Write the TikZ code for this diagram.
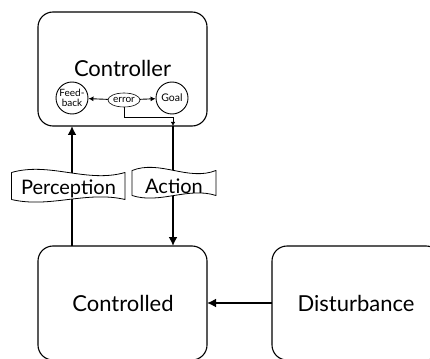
\documentclass[tikz,border=0pt]{standalone}
\usepackage{fontspec}
\setmainfont{Lato}
\usetikzlibrary{shapes.geometric,arrows.meta}
\begin{document}
\begin{tikzpicture}[x=1pt,y=-1pt,
  box/.style={draw,line width=1.1pt,rounded corners=15pt,inner sep=0pt,outer sep=0pt,minimum width=169pt},
  big/.style={font=\fontsize{22}{24}\selectfont,anchor=base},
  circ/.style={draw,circle,line width=0.9pt,minimum size=32pt,inner sep=0pt,align=center},
  thinarrow/.style={line width=0.9pt,-{Latex[length=5pt,width=5pt]}},
  thickarrow/.style={line width=2pt,-{Latex[length=9pt,width=9pt]}},
  bannerarea/.style={inner sep=0pt,outer sep=0pt},
  bannerline/.style={draw,fill=white,line width=0.8pt,line join=round},
  bannertext/.style={font=\fontsize{20}{22}\selectfont,anchor=base}
]
\useasboundingbox (0,0) rectangle (430,358);
% boxes
\node[box,minimum height=114pt] (ctrl) at (122.5,69) {};
\node[big] (ctrltext) at (122.5,77) {Controller};
\node[box,minimum height=114pt] (cd) at (122.5,303) {};
\node[big] (cdtext) at (123,311.5) {Controlled};
\node[box,minimum height=114pt] (dist) at (356.5,303) {};
\node[big] (disttext) at (356,311.5) {Disturbance};
% inner nodes
\node[circ,font=\fontsize{10}{10}\selectfont] (fb) at (72,98) {Feed-\\back};
\node[circ,font=\fontsize{10.5}{10.5}\selectfont] (goal) at (172,98) {Goal};
\node[draw,ellipse,line width=0.6pt,minimum width=32pt,minimum height=14pt,inner sep=-1.5pt,font=\fontsize{10}{10}\selectfont] (err) at (124,100) {error};
\draw[thinarrow] (err) -- (fb);
\draw[thinarrow] (err) -- (goal);
\coordinate (a1) at (173,117);
\draw[line width=0.9pt,-{Latex[length=4pt,width=4.5pt]}] (err.south) |- (a1) -- (a1 |- ctrl.south);
% main connectors
\draw[thickarrow] (a1 |- ctrl.south) -- (a1 |- cd.north);
\draw[thickarrow] (fb |- cd.north) -- (fb |- ctrl.south);
\draw[thickarrow] (dist.west) -- (cd.east);
% banners
\node[bannerarea,minimum width=113.5pt,minimum height=27pt] (perc) at (68.25,186) {};
\path[bannerline] (perc.north west) .. controls +(38,-11) and +(-38,11) .. (perc.north east)
  -- (perc.south east) .. controls +(-38,-9) and +(38,9) .. (perc.south west) -- cycle;
\node[bannertext] (perctext) at (68.5,194.3) {Perception};
\node[bannerarea,minimum width=84pt,minimum height=25pt] (act) at (174,183) {};
\path[bannerline] (act.north west) .. controls +(28,-11) and +(-28,11) .. (act.north east)
  -- (act.south east) .. controls +(-28,-9) and +(28,9) .. (act.south west) -- cycle;
\node[bannertext] (acttext) at (174,193.3) {Action};
\end{tikzpicture}
\end{document}
